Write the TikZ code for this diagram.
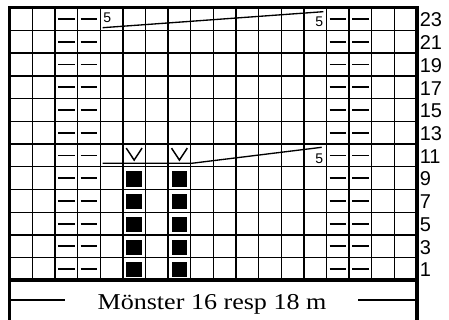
\documentclass[tikz,border=0pt]{standalone}
\usepackage{fontspec}
\setmainfont{Liberation Serif}
\newfontfamily\arialf{Liberation Sans}
\begin{document}
\begin{tikzpicture}[x=0.75pt,y=-0.75pt,
  gridline/.style={line width=1pt},
  thickline/.style={line width=2.6pt,line join=miter},
  dashmark/.style={line width=1.4pt},
  vmark/.style={line width=1.1pt},
  rownum/.style={anchor=base west,inner sep=0pt,font=\arialf\fontsize{15}{15}\selectfont},
  smallnum/.style={inner sep=0pt,font=\arialf\fontsize{10.5}{10.5}\selectfont},
  caption/.style={anchor=base,inner sep=0pt,font=\fontsize{17}{17}\selectfont}]
\useasboundingbox (0,0) rectangle (449,320);
\def\L{9.7}\def\T{7.7}\def\W{22.63}\def\H{22.73}
% grid lines
\foreach \i in {1,...,17}
  \draw[gridline] ({\L+\W*\i},\T) -- ({\L+\W*\i},{\T+12*\H});
\foreach \j in {1,...,11}
  \draw[gridline] (\L,{\T+\H*\j}) -- ({\L+18*\W},{\T+\H*\j});
% dashes
\foreach \j in {0,...,11}
  \foreach \c in {2,3,14,15}
    \draw[dashmark] ({\L+\W*\c+3},{\T+\H*(\j+0.5)}) -- ({\L+\W*(\c+1)-3},{\T+\H*(\j+0.5)});
% black squares
\foreach \j in {7,...,11}
  \foreach \c in {5,7}
    \fill ({\L+\W*\c+3.4},{\T+\H*\j+4.5}) rectangle ({\L+\W*(\c+1)-3.4},{\T+\H*(\j+1)-3});
% V marks
\foreach \c in {5,7}
  \draw[vmark] ({\L+\W*\c+3.4},{\T+\H*6+4}) -- ({\L+\W*\c+11.3},{\T+\H*6+16}) -- ({\L+\W*\c+19.2},{\T+\H*6+4});
% cable lines
\coordinate (ta) at (102.7,27.7);
\coordinate (tb) at (323.3,11.7);
\draw[gridline] (ta) -- (tb);
\coordinate (ma) at (102.7,163.3);
\coordinate (mb) at (191.7,163.3);
\coordinate (mc) at (321.7,147.3);
\draw[gridline] (ma) -- (mb) -- (mc);
\node[smallnum,anchor=base west] (t5l) at (103,23) {5};
\node[smallnum,anchor=base east] (t5r) at (323.5,27) {5};
\node[smallnum,anchor=base east] (m5r) at (323.5,164) {5};
% border
\draw[thickline] (\L,320) -- (\L,\T) -- ({\L+18*\W},\T) -- ({\L+18*\W},320);
\draw[line width=3pt] ({\L-1.7},{\T+12*\H}) -- ({\L+18*\W+1.7},{\T+12*\H});
% row numbers
\foreach \j/\n in {0/23,1/21,2/19,3/17,4/15,5/13,6/11,7/9,8/7,9/5,10/3,11/1}
  \node[rownum] (r\n) at (419.5,{\T+\H*(\j+0.5)+7.8}) {\n};
% caption
\node[caption] (cap) at (212,309.3) {\scalebox{1.15}[1]{Mönster 16 resp 18 m}};
\coordinate (la) at (\L,300);
\coordinate (lb) at (65,300);
\coordinate (lc) at (358,300);
\coordinate (ld) at ({\L+18*\W},300);
\draw[gridline] (la) -- (lb);
\draw[gridline] (lc) -- (ld);
\end{tikzpicture}
\end{document}
